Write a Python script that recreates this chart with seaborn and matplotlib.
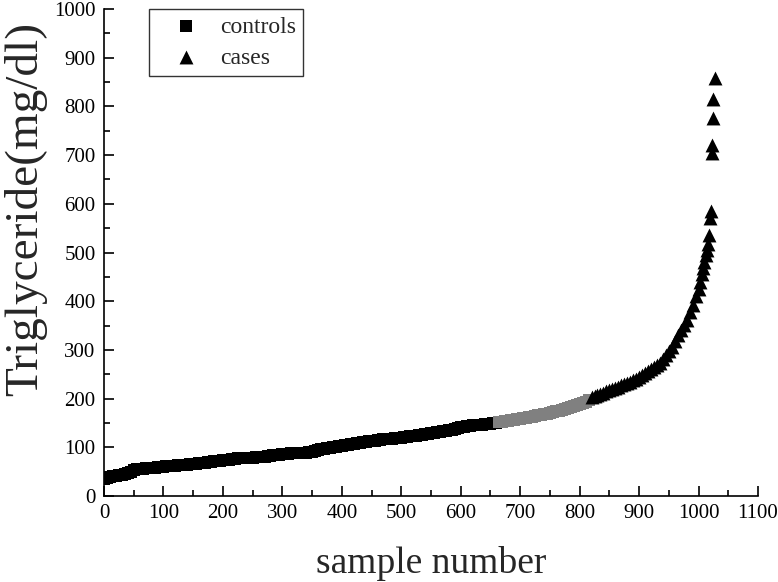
import matplotlib
matplotlib.use("Agg")
import matplotlib.pyplot as plt
from matplotlib.ticker import MultipleLocator
import seaborn as sns
import pandas as pd

# sorted triglyceride values (every 5th sample)
controls_n = list(range(0, 665, 5))
controls_tg = [35, 37, 39, 41, 42, 43, 44, 45, 47, 50,
               53, 55, 56, 56, 57, 57, 58, 58, 59, 60,
               60, 61, 61, 62, 62, 63, 63, 64, 64, 65,
               66, 66, 67, 67, 68, 69, 70, 71, 71, 72,
               73, 74, 74, 75, 76, 77, 77, 78, 78, 79,
               79, 80, 80, 81, 81, 82, 83, 84, 85, 85,
               86, 87, 87, 88, 88, 89, 89, 89, 89, 90,
               91, 92, 94, 96, 97, 98, 99, 100, 101, 102,
               103, 104, 105, 106, 107, 108, 109, 110, 111, 112,
               113, 113, 114, 115, 116, 117, 118, 118, 119, 120,
               120, 121, 122, 123, 124, 124, 125, 126, 127, 128,
               129, 130, 131, 132, 133, 134, 135, 136, 138, 139,
               141, 142, 143, 144, 145, 145, 146, 146, 147, 147,
               148, 149, 150]

middle_n = list(range(665, 820, 5))
middle_tg = [151, 152, 153, 154, 156, 157, 158, 159, 160, 161,
             162, 163, 164, 166, 167, 168, 169, 171, 172, 174,
             175, 177, 178, 180, 182, 184, 186, 188, 191, 194,
             198]

cases_n = list(range(820, 950, 5)) + [
    950, 955, 960, 965, 970, 975, 980, 985, 990, 995,
    1000, 1003, 1006, 1008, 1010, 1012, 1014, 1016, 1018, 1020,
    1021, 1022, 1023, 1024, 1025, 1028]
cases_tg = [203, 205, 208, 210, 212, 215, 217, 220, 222, 224,
            227, 229, 231, 234, 238, 241, 245, 249, 253, 256,
            260, 264, 268, 274, 282, 290,
            298, 305, 318, 330, 340, 352, 362, 378, 392, 410,
            425, 440, 455, 468, 480, 495, 505, 517, 536, 570,
            585, 705, 720, 776, 815, 858]

controls = pd.DataFrame({"n": controls_n, "tg": controls_tg})
middle = pd.DataFrame({"n": middle_n, "tg": middle_tg})
cases = pd.DataFrame({"n": cases_n, "tg": cases_tg})

sns.set_style("white")
plt.rcParams["font.family"] = ["Liberation Serif", "DejaVu Serif"]
plt.rcParams["axes.linewidth"] = 1.2

fig = plt.figure(figsize=(7.78, 5.82), dpi=100)
ax = fig.add_axes([0.1337, 0.1478, 0.8406, 0.8367])

sns.scatterplot(data=controls, x="n", y="tg", marker="s", s=81, color="black",
                linewidth=0, ax=ax, label="controls")
sns.scatterplot(data=middle, x="n", y="tg", marker="s", s=81, color="#808080",
                linewidth=0, ax=ax, label="_nolegend_")
sns.scatterplot(data=cases, x="n", y="tg", marker="^", s=100, color="black",
                linewidth=0, ax=ax, label="cases")

ax.set_xlim(0, 1100)
ax.set_ylim(0, 1000)
ax.xaxis.set_major_locator(MultipleLocator(100))
ax.xaxis.set_minor_locator(MultipleLocator(50))
ax.yaxis.set_major_locator(MultipleLocator(100))
ax.yaxis.set_minor_locator(MultipleLocator(50))
ax.tick_params(which="major", direction="in", length=7, width=1.2,
               labelsize=15, color="black", labelcolor="black", pad=6)
ax.tick_params(which="minor", direction="in", length=4, width=1.2, color="black")
ax.tick_params(axis="x", bottom=True, which="both")
ax.tick_params(axis="y", left=True, which="both")

sns.despine(ax=ax)
for side in ["left", "bottom"]:
    ax.spines[side].set_color("black")

ax.set_xlabel("sample number", fontsize=27, labelpad=16)
ax.set_ylabel("Triglyceride(mg/dl)", fontsize=34)
ax.yaxis.set_label_coords(-0.087, 0.59)

leg = ax.legend(loc="upper left", bbox_to_anchor=(0.069, 1.0), borderaxespad=0,
                fontsize=17, frameon=True, fancybox=False, edgecolor="black",
                handlelength=2.5, handletextpad=0.2, labelspacing=0.4,
                borderpad=0.3, markerscale=1.0)
leg.get_frame().set_linewidth(1.0)

fig.savefig("out.png", dpi=100)
